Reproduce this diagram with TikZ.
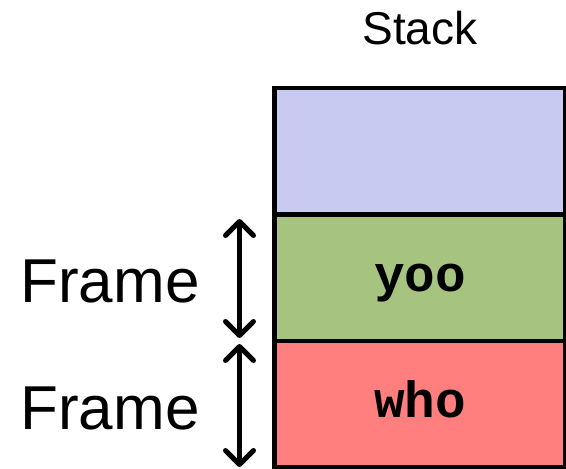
\documentclass[tikz,border=0pt]{standalone}
\usepackage{fontspec}
\setmainfont{Liberation Sans}
\newfontfamily\codefont{Liberation Mono}
\usetikzlibrary{arrows.meta,positioning}
\definecolor{freeblue}{RGB}{200,202,241}
\definecolor{yoogreen}{RGB}{166,196,128}
\definecolor{whored}{RGB}{255,127,127}

\begin{document}
\begin{tikzpicture}[x=1pt,y=-1pt,line width=4.5pt]
    % `slot' is used for the three cells of the stack.
    % `span' is used for the frame arrows on the left.
    \tikzstyle{slot} = [draw=black,minimum width=291pt,minimum height=126.5pt,inner sep=0pt,outer sep=0pt]
    \tikzstyle{span} = [line width=5pt,{Straight Barb[length=14pt,width=28pt,round]}-{Straight Barb[length=14pt,width=28pt,round]}]
    \tikzstyle{framelabel} = [font=\fontsize{62}{62}\selectfont,text height=50pt,text depth=0pt]
    \tikzstyle{code} = [font=\codefont\bfseries\fontsize{51}{51}\selectfont,text height=27pt,text depth=0pt]
    %
    \useasboundingbox (0,0) rectangle (566,469);
    % Draw the stack cells.
    \node[slot,fill=freeblue,anchor=north west] (free) at (274.5,88) {};
    \node[slot,code,fill=yoogreen,below=0pt of free] (yoo) {yoo};
    \node[slot,code,fill=whored,below=0pt of yoo] (who) {who};
    \node[font=\fontsize{46}{46}\selectfont,anchor=base] (stack) at (420,44) {Stack};
    % Draw frame labels and arrows.
    \node[framelabel] (frame1) at (110,0 |- yoo) {Frame};
    \node[framelabel] (frame2) at (110,0 |- who) {Frame};
    \coordinate (top1) at (239.5,219);
    \coordinate (bot1) at (239.5,338);
    \coordinate (top2) at (239.5,344);
    \coordinate (bot2) at (239.5,467);
    \draw[span] (top1) -- (bot1);
    \draw[span] (top2) -- (bot2);
\end{tikzpicture}
\end{document}
